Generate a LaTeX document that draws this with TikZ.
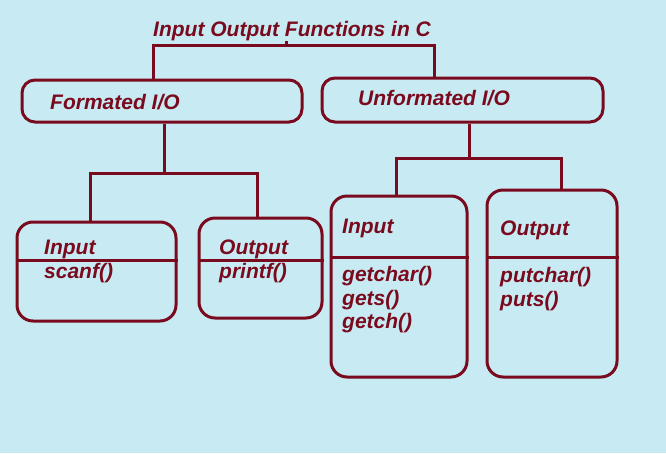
\documentclass[tikz,border=0pt]{standalone}
\usepackage{fontspec}
\setmainfont{Liberation Sans}
\usetikzlibrary{positioning}
\definecolor{maroon}{HTML}{7A0A1E}
\definecolor{skyback}{HTML}{C8EBF3}
\tikzstyle{iobox} = [draw=maroon, line width=3pt, rounded corners=13pt]
\tikzstyle{fnbox} = [draw=maroon, line width=3pt, rounded corners=16pt]
\tikzstyle{txt} = [text=maroon, font=\fontsize{21}{23.5}\selectfont\bfseries\itshape, inner sep=0pt, anchor=west, align=left]
\tikzstyle{link} = [draw=maroon, line width=3pt]

\begin{document}
\begin{tikzpicture}[x=1pt, y=-1pt]
  % background
  \fill[skyback] (0,0) rectangle (666,453);

  % title
  \node[txt] (title) at (153,31) {Input Output Functions in C};

  % groups
  \node[iobox, minimum width=280pt, minimum height=42pt] (fmt) at (162,101) {};
  \node[iobox, minimum width=281pt, minimum height=44pt] (unf) at (462.5,100) {};
  \node[txt] (fmtT) at (50,102) {Formated I/O};
  \node[txt] (unfT) at (358,98) {Unformated I/O};

  % function boxes
  \node[fnbox, minimum width=159pt, minimum height=99pt] (inA) at (96.5,271.5) {};
  \node[fnbox, minimum width=123pt, minimum height=100pt] (outA) at (260.5,268) {};
  \node[fnbox, minimum width=136pt, minimum height=181pt] (inB) at (399,286.5) {};
  \node[fnbox, minimum width=130pt, minimum height=187pt] (outB) at (552,283.5) {};

  % dividers
  \draw[link] ([yshift=11.5pt]inA.west) -- ([yshift=11.5pt]inA.east);
  \draw[link] ([yshift=8pt]outA.west) -- ([yshift=8pt]outA.east);
  \draw[link] ([yshift=29.5pt]inB.west) -- ([yshift=29.5pt]inB.east);
  \draw[link] ([yshift=26.5pt]outB.west) -- ([yshift=26.5pt]outB.east);

  % texts
  \node[txt] (inAT) at (44,249) {Input};
  \node[txt] (inAF) at (44,273) {scanf()};
  \node[txt] (outAT) at (219,249) {Output};
  \node[txt] (outAF) at (219,273) {printf()};
  \node[txt] (inBT) at (342,228) {Input};
  \node[txt] (inBF) at (342,300) {getchar()\\gets()\\getch()};
  \node[txt] (outBT) at (500,230) {Output};
  \node[txt] (outBF) at (500,289) {putchar()\\puts()};

  % links
  \coordinate (a0) at (286,45);
  \coordinate (a1) at (153,45);
  \coordinate (a2) at (434,45);
  \draw[link] (a0 |- title.south) -- (a0);
  \draw[link] (a1 |- fmt.north) -- (a1) -- (a2) -- (a2 |- unf.north);

  \coordinate (b0) at (164,173);
  \coordinate (b1) at (90,173);
  \coordinate (b2) at (257,173);
  \draw[link] (b0 |- fmt.south) -- (b0);
  \draw[link] (b1 |- inA.north) -- (b1) -- (b2) -- (b2 |- outA.north);

  \coordinate (c0) at (469,158);
  \coordinate (c1) at (396,158);
  \coordinate (c2) at (561,158);
  \draw[link] (c0 |- unf.south) -- (c0);
  \draw[link] (c1 |- inB.north) -- (c1) -- (c2) -- (c2 |- outB.north);
\end{tikzpicture}
\end{document}
